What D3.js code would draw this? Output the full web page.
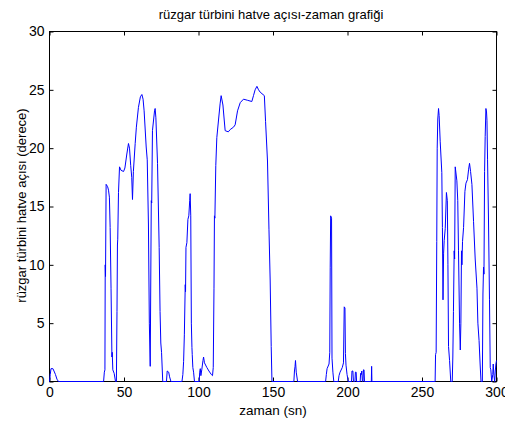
<!DOCTYPE html>
<html>
<head>
<meta charset="utf-8">
<script src="https://cdn.jsdelivr.net/npm/d3@7"></script>
<style>
  body { margin: 0; background: #fff; }
  text { font-family: "Liberation Sans", Arial, sans-serif; }
</style>
</head>
<body>
<div class="inner-content"></div>
<script>
// time (sn) and pitch angle (derece)
var zaman = [
  0, 0.5, 1, 2.3, 3, 4, 5, 6,
  36.3, 36.8, 37.2, 37.4, 37.6, 38, 39, 39.6, 40.2, 40.7, 41.3, 41.9, 42.1, 42.5, 43.4, 44.3,
  44.9, 45.3, 45.6, 45.8, 46.3, 47, 48, 49.7, 50.6, 51.9, 53, 53.7, 54.5, 55.2, 55.7, 56.3,
  57.5, 58.3, 59.7, 61, 62, 62.8, 63.5, 64.9, 65.6, 66.4, 67, 67.6, 68.3, 68.6, 69.1, 70.5,
  70.9, 71.4, 72.5, 73.6, 74.2, 74.7, 75.2, 76,
  78.5, 79, 80, 80.6, 81.5,
  88.9, 89.5, 90, 90.5, 91.1, 91.3, 91.6, 92.2, 92.9, 93.5, 94.1, 94.4, 94.8, 95.2, 95.6,
  95.8, 96.2, 96.7, 97.3,
  100.5, 100.8, 101.2, 101.6, 102.2, 103, 103.4, 104, 105.6, 107, 108.6, 109.4, 109.9,
  110.4, 110.7, 111, 111.6, 112.3, 113.5, 114.5, 115.2, 116.4, 117.2, 117.9, 120, 121.3,
  123.5, 124.6, 126.2, 128, 130.2, 133, 135.8, 136.9, 138, 139.2, 140.3, 141.4, 144.2,
  145, 146.3, 147.3, 148.1, 148.8, 149.3,
  164, 164.4, 164.8, 165.1, 165.6, 166.5,
  185.3, 185.8, 186.3, 187.6, 188.1, 188.4, 188.7, 189.3, 189.6, 190.2, 190.8,
  193.8, 194.3, 195, 196.5, 197.3, 197.8, 198.3, 198.6, 199, 199.7, 200.5,
  202.7, 203, 203.6, 204, 205, 205.3, 205.8, 206.1, 208.5, 208.8, 209.3, 209.6, 210,
  210.4, 210.7, 211.1, 211.4, 216, 216.2, 216.4,
  258.8, 259.1, 259.5, 259.9, 260.2, 260.6, 261.1, 261.5, 262.2, 263.3, 263.7, 264.1,
  264.5, 264.9, 265.6, 266.4, 267, 267.4, 267.8, 268.5, 269.3,
  270.3, 270.7, 271.1, 271.6, 271.9, 272.3, 273.4, 274, 274.5, 275.2, 275.7, 276.1,
  276.5, 276.8, 277.2, 277.9, 278.8, 279.5, 280.5, 281.3, 281.9, 282.6, 283.5, 284.6,
  285.7, 286.9, 287.5, 288.3, 289, 289.6,
  290.5, 290.9, 291.3, 291.6, 292, 292.4, 292.9, 293.3, 293.6, 294, 294.6, 295.3, 295.8,
  296.2, 296.8, 297.5, 297.8, 298.3, 298.8, 299.2, 299.6, 300
]

var aci = [
  0, 0.6, 1.1, 1.1, 0.9, 0.6, 0.2, 0,
  0, 0.8, 1.0, 10, 9, 16.9, 16.7, 16.4, 15.8, 13.2, 8, 2.1, 2.5, 1.0, 0.7, 0,
  0, 6, 11.7, 12.2, 16.2, 18.4, 18.1, 18.0, 18.3, 19.5, 20.4, 20.0, 18.5, 17.5, 15.6, 18,
  20.4, 21.8, 23.5, 24.4, 24.6, 24.2, 23.2, 20.1, 19.0, 13.5, 5, 1.3, 15.5, 15.3, 21.5, 23.2,
  23.4, 22.6, 18.7, 11.5, 6, 3.3, 2.5, 0,
  0, 0.9, 0.8, 0.4, 0,
  0, 0.6, 1.7, 4, 8.3, 7.7, 11.5, 11.9, 13.9, 14.2, 15.5, 16.1, 14.2, 5, 2.9,
  2.3, 1.2, 0.8, 0,
  0, 0.8, 1.1, 0.5, 1.0, 1.8, 2.1, 1.6, 1.2, 0.9, 0.6, 0.5, 1.2,
  8, 14.2, 14.0, 18.5, 20.9, 22.5, 23.8, 24.5, 23.7, 22.5, 21.5, 21.4, 21.6,
  21.8, 22, 23.2, 23.9, 24.2, 24.1, 24.0, 24.5, 25.0, 25.3, 25.0, 24.8, 24.5,
  22.3, 18.9, 13, 8.7, 3, 0,
  0, 0.9, 1.3, 1.8, 0.8, 0,
  0, 0.6, 1.1, 1.5, 2.5, 9.8, 14.2, 14.0, 2, 0.8, 0,
  0, 0.5, 0.8, 1.2, 1.6, 6.4, 6.3, 2.4, 1.4, 0.6, 0,
  0, 0.9, 0.9, 0, 0, 0.8, 0.8, 0, 0, 0.7, 0.6, 0.9, 0,
  0, 1.0, 1.0, 0, 0, 1.3, 0,
  0, 2.3, 2.5, 12, 20, 22.5, 23.4, 22.8, 20.6, 17.9, 13.2, 7.0,
  11, 12.1, 13.1, 16.2, 15.5, 10, 3, 1.8, 0,
  0, 2.1, 6, 11.2, 10.5, 18.4, 17.2, 15.5, 11.2, 5, 2.7, 5,
  11.2, 10, 12, 13.2, 16.3, 17, 17.3, 18.2, 18.7, 18, 16.9, 13.7,
  10.5, 8, 5, 3.5, 1.5, 0,
  0, 7.5, 9.8, 9.2, 18, 21, 23.4, 23.1, 22.4, 19, 14.1, 7, 1.2,
  1.0, 0, 0.6, 1.5, 0.5, 0, 0.9, 1.5, 1.8
]

var xTicks = [0, 50, 100, 150, 200, 250, 300]
var yTicks = [0, 5, 10, 15, 20, 25, 30]

var baslik = "rüzgar türbini hatve açısı-zaman grafiği"
var xEtiket = "zaman (sn)"
var yEtiket = "rüzgar türbini hatve açısı (derece)"

var pLeft = 49.5, pRight = 496.5, pTop = 31.5, pBottom = 381.5

var svg = d3.select(".inner-content")
  .append("svg")
    .attr("width", 505)
    .attr("height", 422)
    .style("background", "#fff")

var x = d3.scaleLinear().domain([0, 300]).range([pLeft, pRight])
var y = d3.scaleLinear().domain([0, 30]).range([pBottom, pTop])

// ticks point inward like matlab
function styleAxis(g) {
  g.select(".domain").remove()
  g.selectAll(".tick line").attr("stroke", "#000").attr("stroke-width", 1)
  g.selectAll(".tick text")
    .attr("fill", "#000")
    .style("font-size", "14px")
    .style("font-family", "'Liberation Sans', Arial, sans-serif")
}

svg.append("g")
  .attr("transform", "translate(0," + pBottom + ")")
  .call(d3.axisBottom(x).tickValues(xTicks).tickSizeInner(-4).tickSizeOuter(0).tickPadding(6))
  .call(styleAxis)

svg.append("g")
  .attr("transform", "translate(0," + pTop + ")")
  .call(d3.axisTop(x).tickValues(xTicks).tickSizeInner(-4).tickSizeOuter(0).tickFormat(""))
  .call(styleAxis)

svg.append("g")
  .attr("transform", "translate(" + pLeft + ",0)")
  .call(d3.axisLeft(y).tickValues(yTicks).tickSizeInner(-4).tickSizeOuter(0).tickPadding(5))
  .call(styleAxis)

svg.append("g")
  .attr("transform", "translate(" + pRight + ",0)")
  .call(d3.axisRight(y).tickValues(yTicks).tickSizeInner(-4).tickSizeOuter(0).tickFormat(""))
  .call(styleAxis)

svg.append("rect")
  .attr("x", pLeft)
  .attr("y", pTop)
  .attr("width", pRight - pLeft)
  .attr("height", pBottom - pTop)
  .attr("fill", "none")
  .attr("stroke", "#000")
  .attr("stroke-width", 1)

var line = d3.line()
  .x(function (d, i) { return x(zaman[i]) })
  .y(function (d) { return y(d) })

svg.append("path")
  .datum(aci)
  .attr("d", line)
  .attr("fill", "none")
  .attr("stroke", "#0000ff")
  .attr("stroke-width", 1)

svg.append("text")
  .attr("x", (pLeft + pRight) / 2 - 2)
  .attr("y", 19)
  .attr("text-anchor", "middle")
  .style("font-size", "13px")
  .text(baslik)

svg.append("text")
  .attr("x", (pLeft + pRight) / 2)
  .attr("y", 415)
  .attr("text-anchor", "middle")
  .style("font-size", "13.5px")
  .text(xEtiket)

svg.append("text")
  .attr("transform", "translate(26," + ((pTop + pBottom) / 2 - 1) + ") rotate(-90)")
  .attr("text-anchor", "middle")
  .style("font-size", "13px")
  .text(yEtiket)
</script>
</body>
</html>
